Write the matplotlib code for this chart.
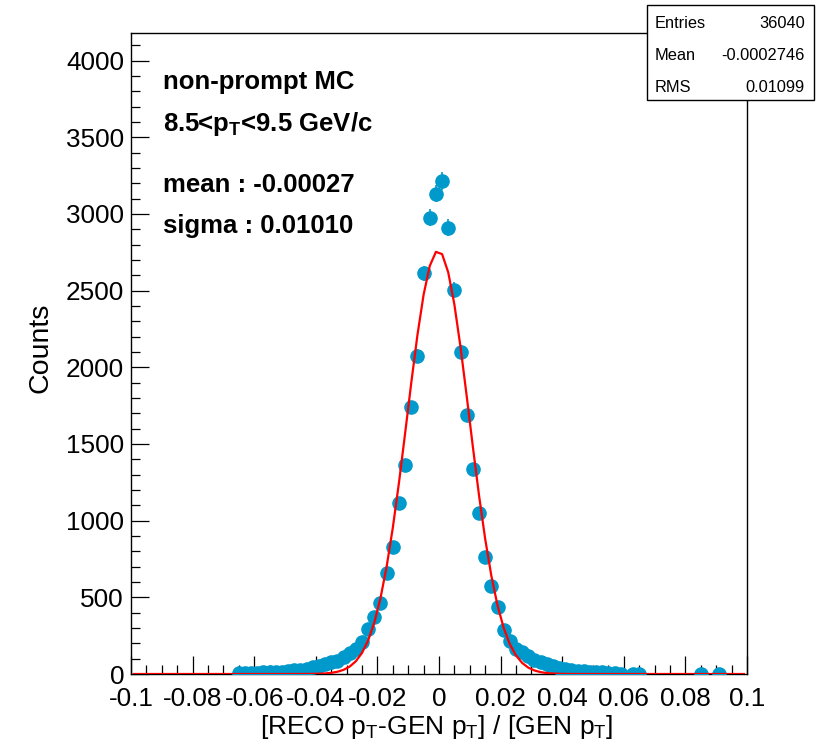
import numpy as np
import matplotlib
matplotlib.use("Agg")
import matplotlib.pyplot as plt
from matplotlib.patches import Rectangle
from matplotlib.ticker import MultipleLocator

plt.rcParams["font.family"] = ["Liberation Sans", "DejaVu Sans"]
plt.rcParams["mathtext.fontset"] = "custom"
plt.rcParams["mathtext.rm"] = "Liberation Sans"
plt.rcParams["mathtext.bf"] = "Liberation Sans:bold"
plt.rcParams["mathtext.it"] = "Liberation Sans:italic"

# ------------------------------------------------------------
# data (bin width 0.002)
# ------------------------------------------------------------
bin_center = [
    -0.065, -0.063, -0.061, -0.059, -0.057, -0.055, -0.053, -0.051,
    -0.049, -0.047, -0.045, -0.043, -0.041, -0.039, -0.037, -0.035,
    -0.033, -0.031, -0.029, -0.027, -0.025, -0.023, -0.021, -0.019,
    -0.017, -0.015, -0.013, -0.011, -0.009, -0.007, -0.005, -0.003,
    -0.001,
    0.001, 0.003, 0.005, 0.007, 0.009, 0.011, 0.013, 0.015,
    0.017, 0.019, 0.021, 0.023, 0.025, 0.027, 0.029, 0.031,
    0.033, 0.035, 0.037, 0.039, 0.041, 0.043, 0.045, 0.047,
    0.049, 0.051, 0.053, 0.055, 0.057, 0.059, 0.061, 0.063,
    0.065,
    0.085, 0.091,
]
counts = [
    5, 7, 8, 9, 10, 12, 14, 16,
    20, 23, 28, 34, 44, 54, 63, 76,
    87, 109, 137, 163, 206, 293, 369, 463,
    656, 829, 1112, 1366, 1741, 2076, 2612, 2975,
    3132,
    3214, 2910, 2504, 2100, 1687, 1340, 1053, 764,
    575, 434, 289, 217, 163, 141, 115, 93,
    76, 62, 50, 40, 32, 26, 22, 18,
    14, 12, 10, 8, 4, 3, 0, 2,
    1,
    1, 1,
]

# gaussian fit parameters
fit_amp = 2760.0
fit_mean = -0.00027
fit_sigma = 0.01010

stats_labels = ["Entries", "Mean", "RMS"]
stats_values = ["36040", "-0.0002746", "0.01099"]

info_lines = [
    "non-prompt MC",
    r"8.5<p$_{\mathbf{T}}$<9.5 GeV/c",
    "mean : -0.00027",
    "sigma : 0.01010",
]

xtick_labels = ["-0.1", "-0.08", "-0.06", "-0.04", "-0.02", "0",
                "0.02", "0.04", "0.06", "0.08", "0.1"]

# ------------------------------------------------------------
W, H = 829, 749
fig = plt.figure(figsize=(W / 100, H / 100), dpi=100)


def fx(px):
    return px / W


def fy(py):
    return 1.0 - py / H


left, right, top, bottom = 131, 747, 33, 674
ax = fig.add_axes([fx(left), fy(bottom), fx(right - left), (bottom - top) / H])

x = np.array(bin_center)
n = np.array(counts, dtype=float)
nz = n > 0  # empty bins are not drawn

blue = "#0099cc"
ax.errorbar(
    x[nz], n[nz], yerr=np.sqrt(n[nz]), fmt="o", color=blue, ms=9.5,
    mec=blue, elinewidth=1.2, capsize=0, zorder=3,
)

xf = np.linspace(-0.099, 0.099, 100)
yf = fit_amp * np.exp(-0.5 * ((xf - fit_mean) / fit_sigma) ** 2)
ax.plot(xf, yf, "-", color="#ff0000", lw=1.6, zorder=4)

ax.set_xlim(-0.1, 0.1)
ax.set_ylim(0, 4180)

ax.set_xticks(np.linspace(-0.1, 0.1, len(xtick_labels)))
ax.set_xticklabels(xtick_labels)
ax.xaxis.set_minor_locator(MultipleLocator(0.005))
ax.yaxis.set_major_locator(MultipleLocator(500))
ax.yaxis.set_minor_locator(MultipleLocator(100))

ax.tick_params(which="both", direction="in", top=False, right=False,
               labelsize=18.8, width=0.9, color="black")
ax.tick_params(which="major", length=13)
ax.tick_params(which="minor", length=6.5)
ax.tick_params(axis="y", pad=5)
ax.tick_params(axis="x", pad=9)

for sp in ax.spines.values():
    sp.set_linewidth(1.0)

# axis titles
fig.text(fx(437), fy(734),
         r"[RECO p$_{\mathrm{T}}$-GEN p$_{\mathrm{T}}$] / [GEN p$_{\mathrm{T}}$]",
         ha="center", va="baseline", fontsize=19)
fig.text(fx(41), fy(348), "Counts", rotation=90, ha="center", va="center",
         fontsize=20.5)

# info text
baselines = [89, 131, 192, 233]
for line, yb in zip(info_lines, baselines):
    fig.text(fx(163), fy(yb), line, ha="left", va="baseline",
             fontsize=18.5, fontweight="bold")

# stats box
fig.add_artist(Rectangle((fx(647), fy(100)), fx(814 - 647), (100 - 5) / H,
                         transform=fig.transFigure, fc="white", ec="black",
                         lw=1.0, zorder=5))
for lab, val, yc in zip(stats_labels, stats_values, [23, 55, 87]):
    fig.text(fx(655), fy(yc), lab, ha="left", va="center", fontsize=11.8, zorder=6)
    fig.text(fx(805), fy(yc), val, ha="right", va="center", fontsize=11.8, zorder=6)

fig.savefig("out.png", dpi=100)
